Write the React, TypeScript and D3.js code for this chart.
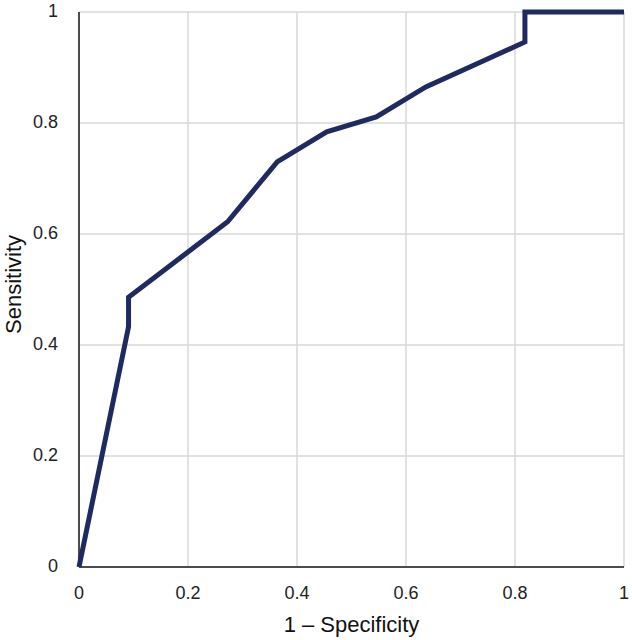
import React from "react";
import * as d3 from "d3";

const fpr = [0, 0.0909, 0.0909, 0.2727, 0.3636, 0.4545, 0.5455, 0.6364, 0.8182, 0.8182, 1];
const tpr = [0, 0.433, 0.486, 0.622, 0.730, 0.784, 0.811, 0.865, 0.946, 1, 1];
const ticks = [0, 0.2, 0.4, 0.6, 0.8, 1];
const xTitle = "1 – Specificity";
const yTitle = "Sensitivity";

export default function App() {
  const W = 632, H = 640;
  const left = 79, right = 624, top = 12, bottom = 567;
  const x = d3.scaleLinear().domain([0, 1]).range([left, right]);
  const y = d3.scaleLinear().domain([0, 1]).range([bottom, top]);
  const pts: [number, number][] = fpr.map((v, i) => [v, tpr[i]]);
  const line = d3.line<[number, number]>().x(d => x(d[0])).y(d => y(d[1]));
  const font = "'Liberation Sans', Arial, sans-serif";
  const fmt = (v: number) => (v === 0 || v === 1 ? String(v) : v.toFixed(1));
  return (
    <svg width={W} height={H} style={{ position: "absolute", left: 0, top: 0, background: "#fff" }}>
      {ticks.map(t => (
        <line key={"gx" + t} x1={x(t)} x2={x(t)} y1={top} y2={bottom} stroke="#d9d9d9" strokeWidth={1.5} />
      ))}
      {ticks.map(t => (
        <line key={"gy" + t} x1={left} x2={right} y1={y(t)} y2={y(t)} stroke="#d9d9d9" strokeWidth={1.5} />
      ))}
      <line x1={left} x2={left} y1={top} y2={bottom} stroke="#1a1a1a" strokeWidth={1.5} />
      <line x1={left} x2={right} y1={bottom} y2={bottom} stroke="#1a1a1a" strokeWidth={1.5} />
      <path d={line(pts) || ""} fill="none" stroke="#1f2a60" strokeWidth={5} strokeLinejoin="miter" />
      {ticks.map(t => (
        <text key={"tx" + t} x={x(t)} y={bottom + 32} textAnchor="middle" fontFamily={font} fontSize={18} fill="#222">
          {fmt(t)}
        </text>
      ))}
      {ticks.map(t => (
        <text key={"ty" + t} x={left - 21} y={y(t) + 5} textAnchor="end" fontFamily={font} fontSize={18} fill="#222">
          {fmt(t)}
        </text>
      ))}
      <text x={(left + right) / 2} y={H - 8} textAnchor="middle" fontFamily={font} fontSize={22} fill="#111">
        {xTitle}
      </text>
      <text transform={`translate(21, ${(top + bottom) / 2 - 5}) rotate(-90)`} textAnchor="middle" fontFamily={font} fontSize={22} fill="#111">
        {yTitle}
      </text>
    </svg>
  );
}
